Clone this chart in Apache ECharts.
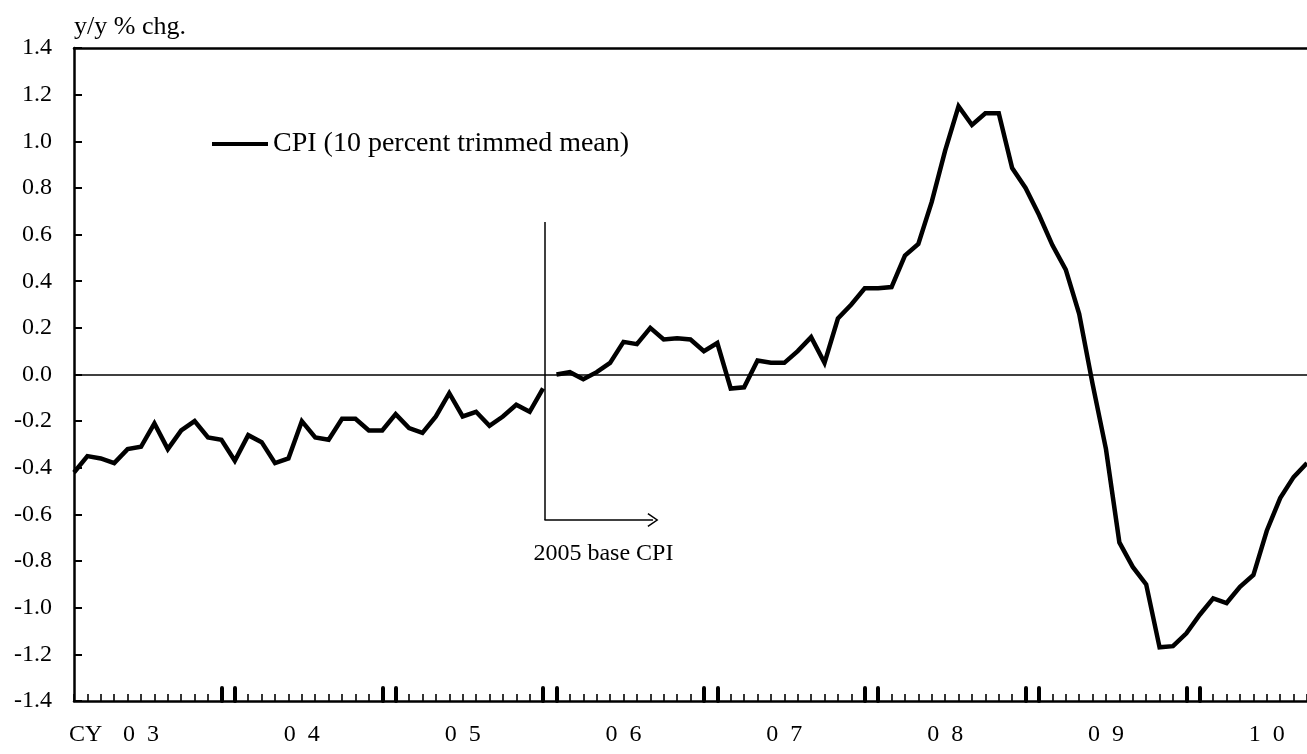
<!DOCTYPE html>
<html>
<head>
<meta charset="utf-8">
<script src="https://cdn.jsdelivr.net/npm/echarts@6/dist/echarts.min.js"></script>
<style>
  html, body { margin: 0; padding: 0; background: #fff; }
  #chart { width: 1307px; height: 754px; }
</style>
</head>
<body>
<div id="chart"></div>
<script>
// Monthly y/y % change, CPI (10 percent trimmed mean), from Jan 2003
const seriesName = 'CPI (10 percent trimmed mean)';
const yearLabels = ['0 3', '0 4', '0 5', '0 6', '0 7', '0 8', '0 9', '1 0'];

// 2000 base CPI: Jan 2003 - Dec 2005
const oldBase = [
  -0.42, -0.35, -0.36, -0.38, -0.32, -0.31, -0.21, -0.32, -0.24, -0.20, -0.27, -0.28,
  -0.37, -0.26, -0.29, -0.38, -0.36, -0.20, -0.27, -0.28, -0.19, -0.19, -0.24, -0.24,
  -0.17, -0.23, -0.25, -0.18, -0.08, -0.18, -0.16, -0.22, -0.18, -0.13, -0.16, -0.06
];
// 2005 base CPI: Jan 2006 onward
const newBase = [
  0.00, 0.01, -0.02, 0.01, 0.05, 0.14, 0.13, 0.20, 0.15, 0.155, 0.15, 0.10,
  0.135, -0.06, -0.055, 0.06, 0.05, 0.05, 0.10, 0.16, 0.05, 0.24, 0.30, 0.37,
  0.37, 0.375, 0.51, 0.56, 0.74, 0.96, 1.15, 1.07, 1.12, 1.12, 0.885, 0.80,
  0.685, 0.555, 0.45, 0.26, -0.04, -0.32, -0.72, -0.825, -0.90, -1.17, -1.165, -1.11,
  -1.03, -0.96, -0.98, -0.91, -0.86, -0.67, -0.53, -0.44, -0.38
];

const FONT = "'Liberation Serif', 'Times New Roman', serif";
const FS = 24;
const newStart = oldBase.length;
const lastMonth = newStart + newBase.length - 1;

const toPairs = (arr, start) => arr.map((v, i) => [start + i, v]);

const monthTicks = [];
for (let m = 0; m <= lastMonth; m++) monthTicks.push(m);
const yearTicks = [];
for (let k = 1; k < yearLabels.length; k++) yearTicks.push(12 * k - 1, 12 * k);
const labelPos = yearLabels.map((_, k) => 12 * k + 5);

// base-revision marker (between Dec 2005 and Jan 2006)
const breakX = newStart - 0.9;
const arrowY = -0.624;
const arrowEnd = breakX + 8.1;
const chevron = 'path://M10,0 L20,14 L18.3,15.2 L10,3.4 L1.7,15.2 L0,14 Z';

const chart = echarts.init(document.getElementById('chart'), null, { renderer: 'canvas' });

const baseAxis = {
  type: 'value', min: 0, max: lastMonth,
  splitLine: { show: false }
};

chart.setOption({
  animation: false,
  backgroundColor: '#fff',
  textStyle: { fontFamily: FONT, color: '#000' },
  grid: { left: 74, right: -9, top: 48, bottom: 53, containLabel: false },
  legend: {
    data: [seriesName],
    left: 207, top: 124,
    icon: 'rect', itemWidth: 56, itemHeight: 4,
    itemStyle: { color: '#000', borderWidth: 0 },
    textStyle: { fontFamily: FONT, fontSize: 28, color: '#000', lineHeight: 30 }
  },
  xAxis: [
    {
      ...baseAxis,
      position: 'bottom',
      axisLine: { show: true, onZero: false, lineStyle: { color: '#000', width: 2.5 } },
      axisTick: { show: true, inside: true, length: 7, customValues: monthTicks,
                  lineStyle: { color: '#000', width: 1.6 } },
      axisLabel: {
        show: true, customValues: labelPos, margin: 22,
        fontFamily: FONT, fontSize: FS, color: '#000',
        formatter: (v) => {
          const k = labelPos.indexOf(v);
          if (k < 0) return '';
          const t = yearLabels[k].replace(' ', '  ');
          return k === 0 ? '{cy|CY}' + t + '{pad|}' : t;
        },
        rich: {
          cy: { width: 54, align: 'left', fontFamily: FONT, fontSize: FS, color: '#000' },
          pad: { width: 54 }
        }
      }
    },
    {
      ...baseAxis,
      position: 'bottom',
      axisLine: { show: false, onZero: false },
      axisTick: { show: true, inside: true, length: 13, customValues: yearTicks,
                  lineStyle: { color: '#000', width: 4, cap: 'round' } },
      axisLabel: { show: false }
    },
    {
      ...baseAxis,
      position: 'top',
      axisLine: { show: true, onZero: false, lineStyle: { color: '#000', width: 2.5 } },
      axisTick: { show: false },
      axisLabel: { show: false }
    }
  ],
  yAxis: {
    type: 'value', min: -1.4, max: 1.4, interval: 0.2,
    name: 'y/y % chg.',
    nameLocation: 'end', nameGap: 8,
    nameTextStyle: { fontFamily: FONT, fontSize: 26, color: '#000', align: 'left', verticalAlign: 'bottom' },
    axisLine: { show: true, onZero: false, lineStyle: { color: '#000', width: 2.5 } },
    axisTick: { show: true, inside: true, length: 8, lineStyle: { color: '#000', width: 2 } },
    splitLine: { show: false },
    axisLabel: {
      margin: 22, fontFamily: FONT, fontSize: FS, color: '#000',
      formatter: (v) => (Math.abs(v) < 1e-9 ? 0 : v).toFixed(1)
    }
  },
  series: [
    {
      name: seriesName, type: 'line', xAxisIndex: 0,
      data: toPairs(oldBase, 0),
      showSymbol: false, symbol: 'none',
      lineStyle: { color: '#000', width: 4.5, join: 'miter' },
      itemStyle: { color: '#000' },
      z: 5
    },
    {
      name: seriesName, type: 'line', xAxisIndex: 0,
      data: toPairs(newBase, newStart),
      showSymbol: false, symbol: 'none',
      lineStyle: { color: '#000', width: 4.5, join: 'miter' },
      itemStyle: { color: '#000' },
      z: 5,
      markLine: {
        silent: true, symbol: 'none', animation: false,
        label: { show: false },
        lineStyle: { color: '#000', type: 'solid', width: 1.5 },
        data: [
          [{ xAxis: 0, yAxis: 0 }, { xAxis: lastMonth, yAxis: 0 }],
          [{ coord: [breakX, 0.654] }, { coord: [breakX, arrowY] }],
          [{ coord: [breakX, arrowY], symbol: 'none' },
           { coord: [arrowEnd, arrowY], symbol: chevron, symbolSize: [14, 11] }]
        ]
      },
      markPoint: {
        silent: true, symbol: 'circle', symbolSize: 0,
        label: { show: true, position: 'inside', formatter: '2005 base CPI',
                 fontFamily: FONT, fontSize: FS, color: '#000' },
        data: [{ coord: [breakX + 4.4, -0.77] }]
      }
    }
  ]
});
</script>
</body>
</html>
